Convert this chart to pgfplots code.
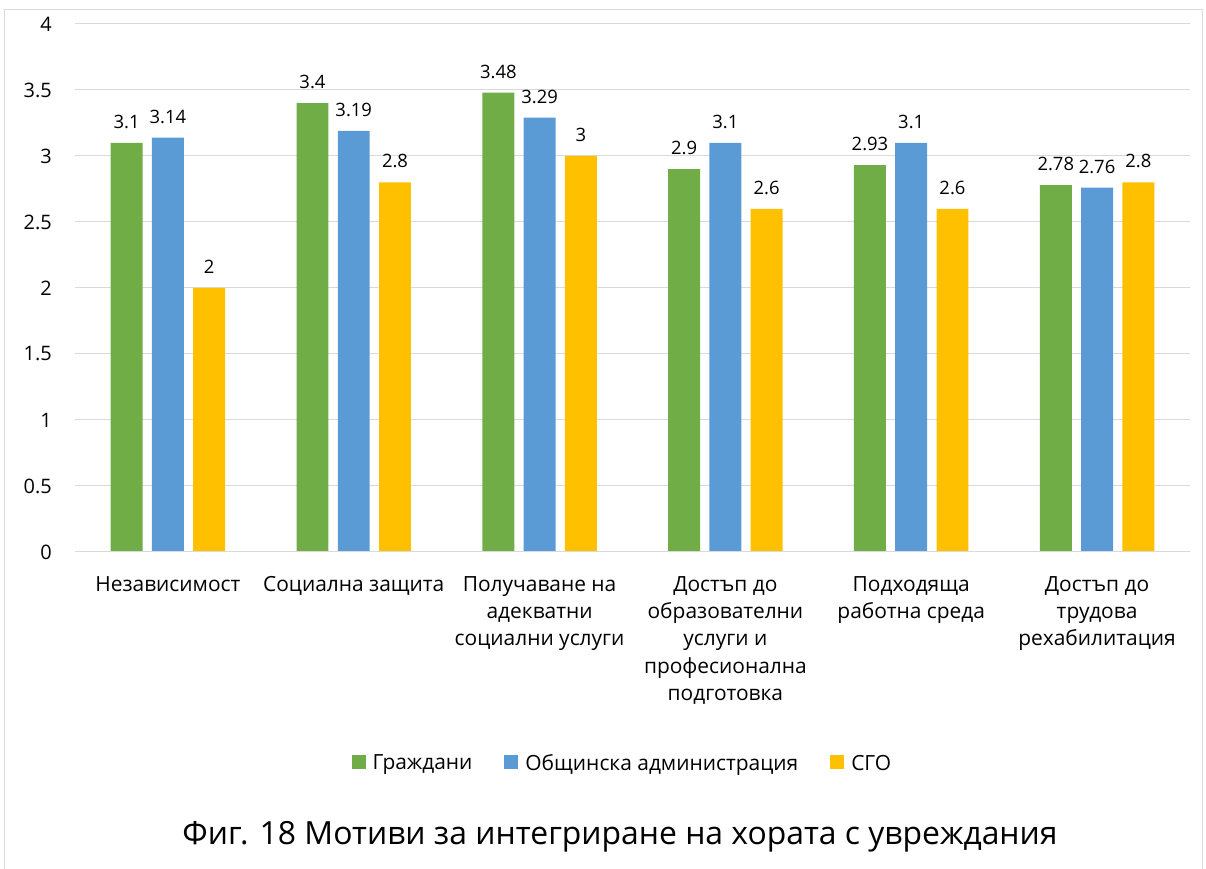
\documentclass[border=0pt]{standalone}
\usepackage{fontspec}
\setmainfont{Open Sans}
\usepackage{pgfplots}
\pgfplotsset{compat=1.18}
\definecolor{cgreen}{HTML}{70AD47}
\definecolor{cblue}{HTML}{5B9BD5}
\definecolor{cyellow}{HTML}{FFC000}
\definecolor{cgrid}{HTML}{D9D9D9}
\begin{document}
\begin{tikzpicture}
\path[use as bounding box] (0,0) rectangle (1206bp,869bp);
\draw[cgrid, line width=1bp] (4bp,0) -- (4bp,859bp) -- (1202bp,859bp) -- (1202bp,0);
\begin{axis}[
  at={(75bp,317bp)}, anchor=south west,
  scale only axis, width=1115bp, height=528bp,
  xmin=-0.5, xmax=5.5, ymin=0, ymax=4,
  ytick={0,0.5,...,4},
  xtick={0,1,2,3,4,5},
  xticklabels={Независимост, Социална защита, {Получаване на\\адекватни\\социални услуги}, {Достъп до\\образователни\\услуги и\\професионална\\подготовка}, {Подходяща\\работна среда}, {Достъп до\\трудова\\рехабилитация}},
  /pgf/number format/assume math mode=true,
  ymajorgrids, grid style={cgrid, line width=1bp},
  axis line style={draw=none},
  axis x line*=bottom,
  major tick length=0pt,
  tick style={draw=none},
  yticklabel style={font=\fontsize{20}{22}\selectfont, anchor=east, inner sep=0pt, xshift=-23bp},
  xticklabel style={font=\fontsize{21}{27.5}\selectfont, align=center, anchor=north, inner sep=0pt, yshift=-24bp},
  ybar, bar width=0.172,
  nodes near coords,
  every node near coord/.append style={font=\fontsize{18.5}{22}\selectfont, anchor=south, inner sep=0pt, yshift=14bp, text=black},
  legend style={at={(0.491,-0.40)}, anchor=center, draw=none, fill=none,
    font=\fontsize{21}{24}\selectfont, legend columns=3,
    /tikz/every even column/.append style={column sep=30bp}},
  legend image code/.code={\fill[#1] (0bp,-6bp) rectangle (14bp,8bp);},
]
\addplot[fill=cgreen, draw=none, bar shift=-0.222] coordinates {(0,3.1) (1,3.4) (2,3.48) (3,2.9) (4,2.93) (5,2.78)};
\addplot[fill=cblue, draw=none, bar shift=0] coordinates {(0,3.14) (1,3.19) (2,3.29) (3,3.1) (4,3.1) (5,2.76)};
\addplot[fill=cyellow, draw=none, bar shift=0.222] coordinates {(0,2) (1,2.8) (2,3) (3,2.6) (4,2.6) (5,2.8)};
\draw[cgrid, line width=1bp] (axis cs:-0.5,0) -- (axis cs:5.5,0);
\legend{\hspace{5bp}Граждани, \hspace{5bp}Общинска администрация, \hspace{5bp}СГО}
\end{axis}
\node[font=\fontsize{32}{38}\selectfont] at (620bp,32bp) {Фиг. 18 Мотиви за интегриране на хората с увреждания};
\end{tikzpicture}
\end{document}
